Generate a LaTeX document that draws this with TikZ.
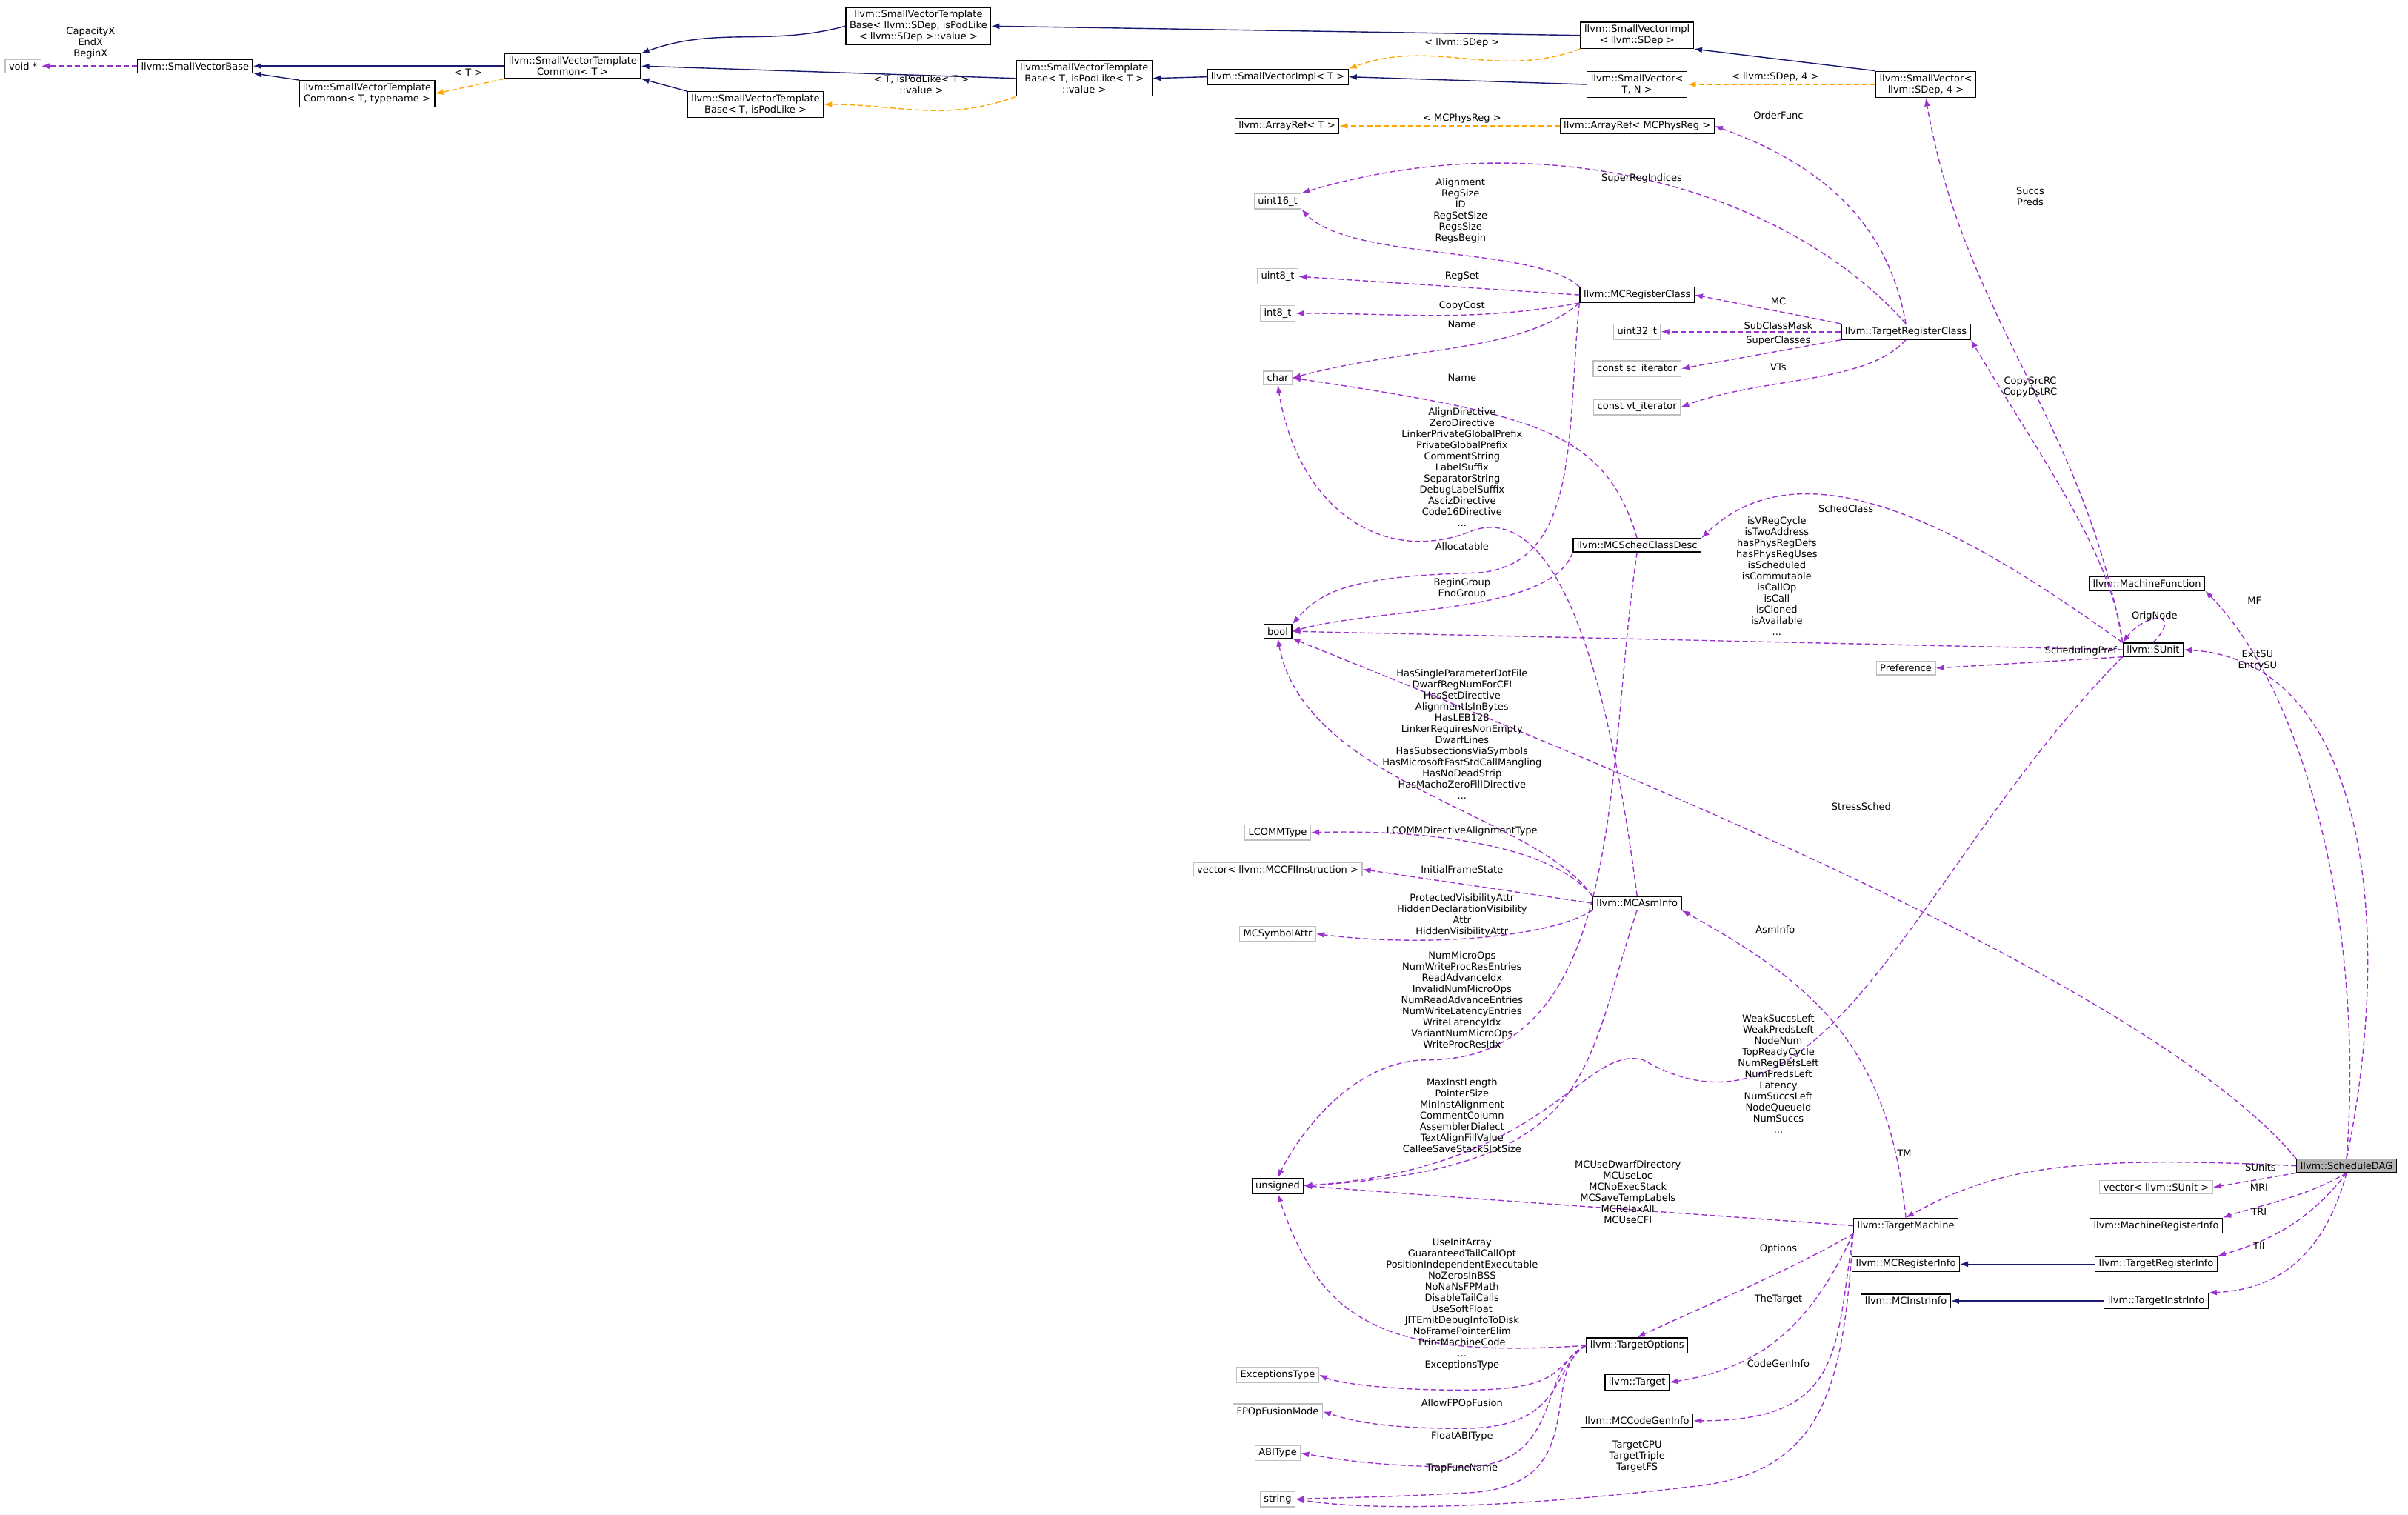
\documentclass[tikz,border=0pt]{standalone}
\usepackage{fontspec}
\setmainfont{DejaVu Sans}
\usetikzlibrary{arrows.meta}
\definecolor{pur}{HTML}{9A32CD}
\definecolor{nav}{HTML}{191970}
\definecolor{org}{HTML}{FFA500}
\begin{document}
\begin{tikzpicture}[x=2.073pt,y=-2.073pt,
  every node/.style={font=\fontsize{13}{15}\selectfont,align=center},
  cls/.style={draw=black,line width=1.3pt,fill=white,inner xsep=5pt,inner ysep=4pt},
  gcls/.style={draw=black!25,line width=1.3pt,fill=white,inner xsep=5pt,inner ysep=4pt},
  lbl/.style={inner sep=0pt},
  pu/.style={draw=pur,dashed,dash pattern=on 7pt off 4pt,line width=1.4pt,-{Latex[length=11pt,width=8pt]}},
  inh/.style={draw=nav,line width=1.4pt,-{Latex[length=11pt,width=8pt]}},
  tpl/.style={draw=org,dashed,dash pattern=on 7pt off 4pt,line width=1.4pt,-{Latex[length=11pt,width=8pt]}}]
\useasboundingbox (0,0) rectangle (1568,986);
% nodes
\node[gcls] (void) at (15,43) {void *};
\node[cls] (svb) at (127,43) {llvm::SmallVectorBase};
\node[cls] (svtctn) at (239,61) {llvm::SmallVectorTemplate\\Common< T, typename >};
\node[cls] (svtc) at (373,43) {llvm::SmallVectorTemplate\\Common< T >};
\node[cls] (svtbs) at (598,17) {llvm::SmallVectorTemplate\\Base< llvm::SDep, isPodLike\\< llvm::SDep >::value >};
\node[cls] (svtbp) at (492,68) {llvm::SmallVectorTemplate\\Base< T, isPodLike >};
\node[cls] (svtbp2) at (706,51) {llvm::SmallVectorTemplate\\Base< T, isPodLike< T >\\::value >};
\node[cls] (svit) at (832,50) {llvm::SmallVectorImpl< T >};
\node[cls] (svis) at (1066,23) {llvm::SmallVectorImpl\\< llvm::SDep >};
\node[cls] (svtn) at (1066,55) {llvm::SmallVector<\\T, N >};
\node[cls] (svs4) at (1254,55) {llvm::SmallVector<\\llvm::SDep, 4 >};
\node[cls] (art) at (838,82) {llvm::ArrayRef< T >};
\node[cls] (armc) at (1066,82) {llvm::ArrayRef< MCPhysReg >};
\node[gcls] (u16) at (832,131) {uint16\_t};
\node[gcls] (u8) at (832,180) {uint8\_t};
\node[gcls] (i8) at (832,204) {int8\_t};
\node[cls] (mcrc) at (1066,192) {llvm::MCRegisterClass};
\node[gcls] (u32) at (1066,216) {uint32\_t};
\node[cls] (trc) at (1241,216) {llvm::TargetRegisterClass};
\node[gcls] (sci) at (1066,240) {const sc\_iterator};
\node[gcls] (vti) at (1066,265) {const vt\_iterator};
\node[gcls] (char) at (832,246) {char};
\node[cls] (mcscd) at (1066,355) {llvm::MCSchedClassDesc};
\node[cls] (bool) at (832,411) {bool};
\node[cls] (mf) at (1398,380) {llvm::MachineFunction};
\node[cls] (sunit) at (1402,423) {llvm::SUnit};
\node[gcls] (pref) at (1241,435) {Preference};
\node[gcls] (lcomm) at (832,542) {LCOMMType};
\node[gcls] (vcfi) at (832,566) {vector< llvm::MCCFIInstruction >};
\node[cls] (asm) at (1066,588) {llvm::MCAsmInfo};
\node[gcls] (msa) at (832,608) {MCSymbolAttr};
\node[cls] (uns) at (832,772) {unsigned};
\node[cls,fill=black!30] (sdag) at (1528,759) {llvm::ScheduleDAG};
\node[gcls] (vsu) at (1404,773) {vector< llvm::SUnit >};
\node[cls] (tm) at (1241,798) {llvm::TargetMachine};
\node[cls] (mri) at (1404,798) {llvm::MachineRegisterInfo};
\node[cls] (mcri) at (1241,823) {llvm::MCRegisterInfo};
\node[cls] (tri) at (1404,823) {llvm::TargetRegisterInfo};
\node[cls] (mcii) at (1241,847) {llvm::MCInstrInfo};
\node[cls] (tii) at (1404,847) {llvm::TargetInstrInfo};
\node[gcls] (exc) at (832,895) {ExceptionsType};
\node[cls] (topt) at (1066,876) {llvm::TargetOptions};
\node[cls] (tgt) at (1066,900) {llvm::Target};
\node[gcls] (fpo) at (832,919) {FPOpFusionMode};
\node[cls] (mccg) at (1066,925) {llvm::MCCodeGenInfo};
\node[gcls] (abi) at (832,946) {ABIType};
\node[gcls] (str) at (832,976) {string};
% inheritance
\draw[inh] (svtc.west) -- (svb.east);
\draw[inh] (svtctn.north west) -- (svb.south east);
\draw[inh] (svtbs.west) to[out=195,in=20] (svtc.north east);
\draw[inh] (svtbp2.west) -- (svtc.east);
\draw[inh] (svtbp.north west) -- (svtc.south east);
\draw[inh] (svis.west) -- (svtbs.east);
\draw[inh] (svit.west) -- (svtbp2.east);
\draw[inh] (svtn.west) -- (svit.east);
\draw[inh] (svs4.north west) -- (svis.south east);
\draw[inh] (tri.west) -- (mcri.east);
\draw[inh] (tii.west) -- (mcii.east);
% templates
\draw[tpl] (svtc.south west) -- (svtctn.east);
\node[lbl] (l1) at (305,47) {< T >};
\draw[tpl] (svtbp2.south west) to[out=200,in=0] (svtbp.east);
\node[lbl] (l2) at (600,55) {< T, isPodLike< T >\\::value >};
\draw[tpl] (svis.south west) to[out=200,in=20] (svit.north east);
\node[lbl] (l3) at (952,28) {< llvm::SDep >};
\draw[tpl] (svs4.west) -- (svtn.east);
\node[lbl] (l4) at (1156,50) {< llvm::SDep, 4 >};
\draw[tpl] (armc.west) -- (art.east);
\node[lbl] (l5) at (952,77) {< MCPhysReg >};
% usage
\draw[pu] (svb.west) -- (void.east);
\node[lbl] (l6) at (59,28) {CapacityX\\EndX\\BeginX};
\draw[pu] (trc.north) to[out=100,in=-20] (armc.east);
\node[lbl] (l7) at (1158,75) {OrderFunc};
\draw[pu] (sunit.north west) to[out=100,in=-80] (svs4.south);
\node[lbl] (l8) at (1322,128) {Succs\\Preds};
\draw[pu] (trc.north) .. controls (1160,120) and (1000,80) .. (u16.north east);
\node[lbl] (l9) at (1069,116) {SuperRegIndices};
\draw[pu] (mcrc.north west) .. controls (1000,160) and (880,170) .. (u16.south east);
\node[lbl] (l10) at (951,137) {Alignment\\RegSize\\ID\\RegSetSize\\RegsSize\\RegsBegin};
\draw[pu] (mcrc.west) -- (u8.east);
\node[lbl] (l11) at (952,180) {RegSet};
\draw[pu] (mcrc.south west) to[out=190,in=0] (i8.east);
\node[lbl] (l12) at (952,199) {CopyCost};
\draw[pu] (mcrc.south west) .. controls (990,230) and (920,225) .. (char.east);
\node[lbl] (l13) at (952,211) {Name};
\draw[pu] (trc.north west) -- (mcrc.east);
\node[lbl] (l14) at (1158,196) {MC};
\draw[pu] (trc.west) -- (u32.east);
\node[lbl] (l15) at (1158,212) {SubClassMask};
\draw[pu] (trc.south west) -- (sci.east);
\node[lbl] (l16) at (1158,222) {SuperClasses};
\draw[pu] (trc.south) .. controls (1215,250) and (1150,245) .. (vti.east);
\node[lbl] (l17) at (1158,239) {VTs};
\draw[pu] (sunit.north west) .. controls (1375,360) and (1330,300) .. (trc.south east);
\node[lbl] (l18) at (1322,252) {CopySrcRC\\CopyDstRC};
\draw[pu] (mcscd.north) .. controls (1045,280) and (1000,270) .. (char.east);
\node[lbl] (l19) at (952,246) {Name};
\draw[pu] (asm.north) .. controls (1045,420) and (1010,330) .. (960,345) .. controls (900,370) and (845,330) .. (char.south);
\node[lbl] (l20) at (952,304) {AlignDirective\\ZeroDirective\\LinkerPrivateGlobalPrefix\\PrivateGlobalPrefix\\CommentString\\LabelSuffix\\SeparatorString\\DebugLabelSuffix\\AscizDirective\\Code16Directive\\...};
\draw[pu] (mcrc.south west) .. controls (1020,280) and (1030,370) .. (960,373) .. controls (880,375) and (860,385) .. (bool.north east);
\node[lbl] (l21) at (952,356) {Allocatable};
\draw[pu] (sunit.north west) .. controls (1300,360) and (1180,280) .. (mcscd.north east);
\node[lbl] (l22) at (1202,331) {SchedClass};
\draw[pu] (mcscd.south west) .. controls (1010,400) and (900,395) .. (bool.east);
\node[lbl] (l23) at (952,383) {BeginGroup\\EndGroup};
\draw[pu] (sunit.west) -- (bool.east);
\node[lbl] (l24) at (1157,375) {isVRegCycle\\isTwoAddress\\hasPhysRegDefs\\hasPhysRegUses\\isScheduled\\isCommutable\\isCallOp\\isCall\\isCloned\\isAvailable\\...};
\draw[pu] (sunit.north) .. controls (1422,398) and (1398,398) .. (sunit.north west);
\node[lbl] (l25) at (1403,401) {OrigNode};
\draw[pu] (sunit.south west) -- (pref.east);
\node[lbl] (l26) at (1355,424) {SchedulingPref};
\draw[pu] (sdag.north) .. controls (1540,600) and (1500,450) .. (mf.south east);
\node[lbl] (l27) at (1468,391) {MF};
\draw[pu] (sdag.north) .. controls (1560,600) and (1540,430) .. (sunit.east);
\node[lbl] (l28) at (1470,430) {ExitSU\\EntrySU};
\draw[pu] (sdag.north west) .. controls (1400,640) and (1050,500) .. (bool.south east);
\node[lbl] (l29) at (1212,525) {StressSched};
\draw[pu] (asm.north west) .. controls (1000,530) and (850,510) .. (bool.south);
\node[lbl] (l30) at (952,478) {HasSingleParameterDotFile\\DwarfRegNumForCFI\\HasSetDirective\\AlignmentIsInBytes\\HasLEB128\\LinkerRequiresNonEmpty\\DwarfLines\\HasSubsectionsViaSymbols\\HasMicrosoftFastStdCallMangling\\HasNoDeadStrip\\HasMachoZeroFillDirective\\...};
\draw[pu] (asm.north west) .. controls (1010,550) and (930,540) .. (lcomm.east);
\node[lbl] (l31) at (952,541) {LCOMMDirectiveAlignmentType};
\draw[pu] (asm.west) -- (vcfi.east);
\node[lbl] (l32) at (952,566) {InitialFrameState};
\draw[pu] (asm.south west) .. controls (1010,610) and (930,617) .. (msa.east);
\node[lbl] (l33) at (952,596) {ProtectedVisibilityAttr\\HiddenDeclarationVisibility\\Attr\\HiddenVisibilityAttr};
\draw[pu] (mcscd.south) .. controls (1045,500) and (1060,690) .. (930,690) .. controls (880,690) and (845,740) .. (uns.north);
\node[lbl] (l34) at (952,651) {NumMicroOps\\NumWriteProcResEntries\\ReadAdvanceIdx\\InvalidNumMicroOps\\NumReadAdvanceEntries\\NumWriteLatencyEntries\\WriteLatencyIdx\\VariantNumMicroOps\\WriteProcResIdx};
\draw[pu] (asm.south) .. controls (1030,700) and (1040,760) .. (uns.east);
\node[lbl] (l35) at (952,726) {MaxInstLength\\PointerSize\\MinInstAlignment\\CommentColumn\\AssemblerDialect\\TextAlignFillValue\\CalleeSaveStackSlotSize};
\draw[pu] (sunit.south west) .. controls (1250,560) and (1190,760) .. (1070,690) .. controls (1030,680) and (1010,760) .. (uns.east);
\node[lbl] (l36) at (1158,699) {WeakSuccsLeft\\WeakPredsLeft\\NodeNum\\TopReadyCycle\\NumRegDefsLeft\\NumPredsLeft\\Latency\\NumSuccsLeft\\NodeQueueId\\NumSuccs\\...};
\draw[pu] (tm.west) .. controls (1100,790) and (950,780) .. (uns.east);
\node[lbl] (l37) at (1060,776) {MCUseDwarfDirectory\\MCUseLoc\\MCNoExecStack\\MCSaveTempLabels\\MCRelaxAll\\MCUseCFI};
\draw[pu] (topt.west) .. controls (900,885) and (860,860) .. (uns.south);
\node[lbl] (l38) at (952,845) {UseInitArray\\GuaranteedTailCallOpt\\PositionIndependentExecutable\\NoZerosInBSS\\NoNaNsFPMath\\DisableTailCalls\\UseSoftFloat\\JITEmitDebugInfoToDisk\\NoFramePointerElim\\PrintMachineCode\\...};
\draw[pu] (tm.north) .. controls (1230,680) and (1180,640) .. (asm.south east);
\node[lbl] (l39) at (1156,605) {AsmInfo};
\draw[pu] (sdag.west) .. controls (1350,752) and (1300,760) .. (tm.north);
\node[lbl] (l40) at (1240,751) {TM};
\draw[pu] (sdag.south west) -- (vsu.east);
\node[lbl] (l41) at (1472,760) {SUnits};
\draw[pu] (sdag.south) .. controls (1500,780) and (1470,785) .. (mri.north east);
\node[lbl] (l42) at (1471,773) {MRI};
\draw[pu] (sdag.south) .. controls (1500,800) and (1470,810) .. (tri.north east);
\node[lbl] (l43) at (1471,789) {TRI};
\draw[pu] (sdag.south) .. controls (1510,830) and (1470,840) .. (tii.north east);
\node[lbl] (l44) at (1471,811) {TII};
\draw[pu] (tm.south west) .. controls (1160,830) and (1110,850) .. (topt.north);
\node[lbl] (l45) at (1158,813) {Options};
\draw[pu] (tm.south west) .. controls (1180,860) and (1150,890) .. (tgt.east);
\node[lbl] (l46) at (1158,846) {TheTarget};
\draw[pu] (tm.south west) .. controls (1195,880) and (1200,925) .. (mccg.east);
\node[lbl] (l47) at (1158,888) {CodeGenInfo};
\draw[pu] (tm.south west) .. controls (1200,900) and (1190,960) .. (1100,968) .. controls (1000,980) and (900,985) .. (str.east);
\node[lbl] (l48) at (1066,948) {TargetCPU\\TargetTriple\\TargetFS};
\draw[pu] (topt.west) .. controls (1010,890) and (1020,905) .. (952,905) .. controls (900,905) and (870,900) .. (exc.east);
\node[lbl] (l49) at (952,889) {ExceptionsType};
\draw[pu] (topt.west) .. controls (1010,890) and (1020,930) .. (952,930) .. controls (900,930) and (880,925) .. (fpo.east);
\node[lbl] (l50) at (952,914) {AllowFPOpFusion};
\draw[pu] (topt.west) .. controls (1000,890) and (1020,955) .. (952,955) .. controls (900,955) and (870,950) .. (abi.east);
\node[lbl] (l51) at (952,935) {FloatABIType};
\draw[pu] (topt.west) .. controls (1000,895) and (1040,970) .. (952,972) .. controls (900,975) and (870,975) .. (str.east);
\node[lbl] (l52) at (952,956) {TrapFuncName};
\end{tikzpicture}
\end{document}
